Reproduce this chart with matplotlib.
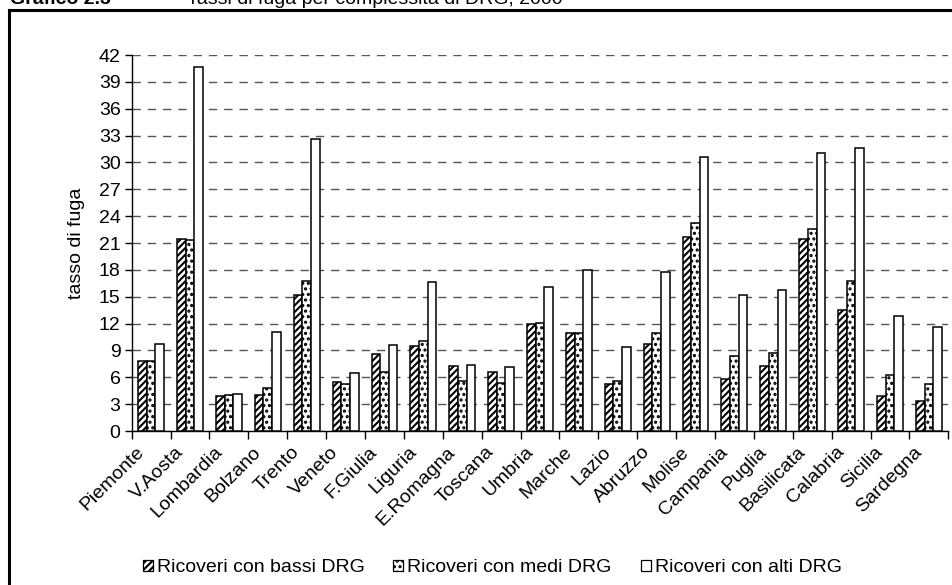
import matplotlib
matplotlib.use("Agg")
import matplotlib.pyplot as plt
import numpy as np
from matplotlib.lines import Line2D
from matplotlib.patches import Patch

plt.rcParams['font.family'] = ['Liberation Sans', 'DejaVu Sans']
plt.rcParams['hatch.linewidth'] = 1.5

regioni = ["Piemonte", "V.Aosta", "Lombardia", "Bolzano", "Trento", "Veneto",
           "F.Giulia", "Liguria", "E.Romagna", "Toscana", "Umbria", "Marche",
           "Lazio", "Abruzzo", "Molise", "Campania", "Puglia", "Basilicata",
           "Calabria", "Sicilia", "Sardegna"]

bassi = [7.8, 21.4, 3.9, 4.0, 15.2, 5.5, 8.6, 9.5, 7.3, 6.6, 11.9, 11.0,
         5.3, 9.7, 21.7, 5.8, 7.3, 21.4, 13.5, 3.9, 3.4]
medi = [7.8, 21.3, 4.0, 4.8, 16.7, 5.2, 6.6, 10.0, 5.6, 5.4, 12.1, 11.0,
        5.6, 11.0, 23.2, 8.4, 8.7, 22.6, 16.8, 6.2, 5.3]
alti = [9.7, 40.7, 4.1, 11.1, 32.6, 6.5, 9.6, 16.6, 7.4, 7.1, 16.1, 18.0,
        9.4, 17.8, 30.6, 15.2, 15.7, 31.1, 31.6, 12.8, 11.6]

etichette = ["Ricoveri con bassi DRG", "Ricoveri con medi DRG", "Ricoveri con alti DRG"]
motivi = ["/////", "...", None]

W, H = 953, 585
FS = 14
fig = plt.figure(figsize=(W / 100, H / 100), dpi=100)
ax = fig.add_axes([131.7 / W, (H - 431) / H, (948.3 - 131.7) / W, (431 - 55) / H])

x = np.arange(len(regioni))
bw = 0.222
for k, (serie, motivo) in enumerate(zip([bassi, medi, alti], motivi)):
    ax.bar(x + (k - 1) * bw, serie, bw, color="white", edgecolor="black",
           linewidth=1.1, hatch=motivo, zorder=3)

ax.set_xlim(-0.5, len(regioni) - 0.5)
ax.set_ylim(0, 42)
ax.set_yticks(np.arange(0, 43, 3))
ax.tick_params(axis="y", labelsize=FS, length=5, width=1.0, direction="out", pad=3)
ax.yaxis.grid(True, linestyle=(0, (6, 5)), color="#555555", linewidth=1.0, zorder=0)

# ticks on category boundaries, labels on category centres
ax.set_xticks(np.arange(-0.5, len(regioni), 1.0))
ax.set_xticklabels([])
ax.tick_params(axis="x", which="major", length=6, width=1.0, direction="out")
ax.set_xticks(x - 0.4, minor=True)
ax.set_xticklabels(regioni, minor=True, rotation=45, ha="right",
                   rotation_mode="anchor", fontsize=FS)
ax.tick_params(axis="x", which="minor", length=0, pad=9)

for s in ["top", "right"]:
    ax.spines[s].set_visible(False)
ax.spines["left"].set_linewidth(1.0)
ax.spines["bottom"].set_linewidth(1.0)

ax.set_ylabel("tasso di fuga", fontsize=FS, labelpad=10)

# one legend entry per series, spread along the bottom
for xpos, lab, motivo in zip([129, 379, 627], etichette, motivi):
    h = Patch(facecolor="white", edgecolor="black", hatch=motivo, linewidth=0.9)
    fig.legend([h], [lab], loc="center left", bbox_to_anchor=(xpos / W, 1 - 568 / H),
               frameon=False, fontsize=FS, handlelength=0.55, handleheight=0.55,
               handletextpad=0.2, borderpad=0.2)

# outer frame, open at the right and bottom
fig.add_artist(Line2D([9 / W, 1.0], [1 - 10 / H, 1 - 10 / H], color="black",
                      linewidth=2.2, transform=fig.transFigure))
fig.add_artist(Line2D([9 / W, 9 / W], [1 - 10 / H, 0.0], color="black",
                      linewidth=2.2, transform=fig.transFigure))

fig.text(10 / W, 1 - 4 / H, "Grafico 2.3", fontsize=14, fontweight="bold",
         va="baseline")
fig.text(187 / W, 1 - 4 / H, "Tassi di fuga per complessità di DRG, 2000",
         fontsize=14, va="baseline")

fig.savefig("out.png", dpi=100)
